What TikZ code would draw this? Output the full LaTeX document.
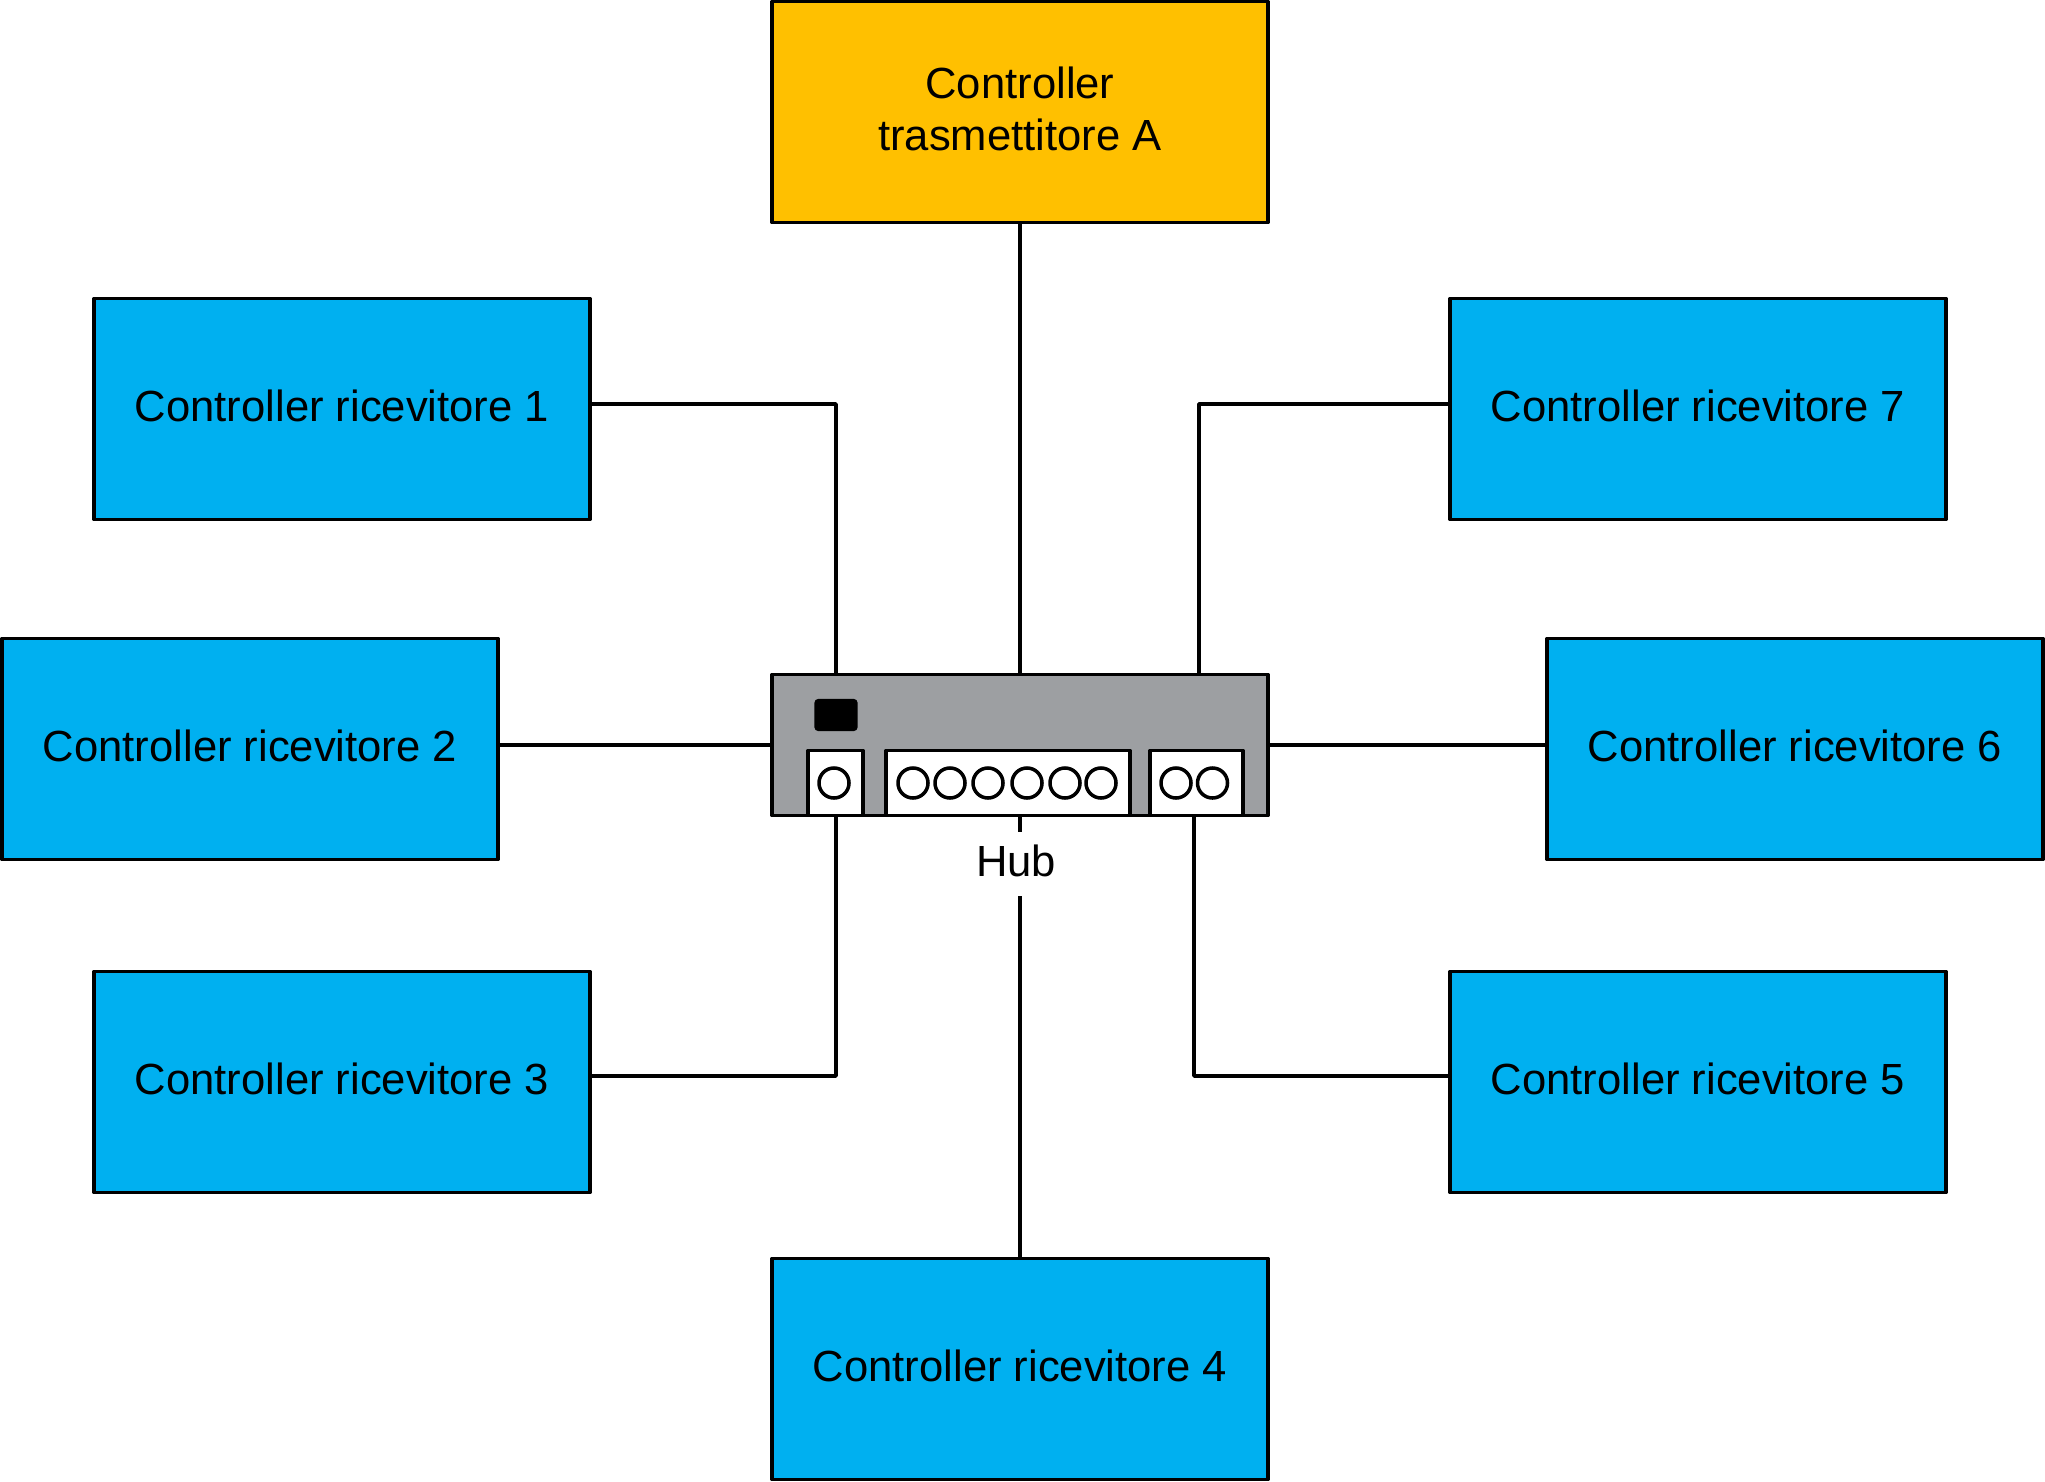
\documentclass[tikz,border=0pt]{standalone}
\usepackage{fontspec}
\setmainfont{Liberation Sans}
\tikzset{
  linea/.style={line width=1pt,line join=round},
  ctrlfont/.style={text depth=0.06cm,font=\fontsize{12.4}{14.8}\selectfont},
  ctrlbox/.style={linea,draw,rectangle,minimum width=4.955cm,minimum height=2.21cm,outer sep=0pt,inner sep=0pt,align=center,ctrlfont},
  ricevitore/.style={ctrlbox,fill=bluctrl},
  porta/.style={linea,draw,fill=white,rectangle,minimum height=0.65cm,outer sep=0pt,inner sep=0pt},
}
\definecolor{bluctrl}{HTML}{00B0F0}
\definecolor{gialloctrl}{HTML}{FFC000}
\definecolor{grigiohub}{HTML}{9D9FA2}
\begin{document}
\begin{tikzpicture}[x=0.01cm,y=-0.01cm]
    \useasboundingbox (0,0) rectangle (2045,1482);
    \node[ctrlbox,fill=gialloctrl] (tx) at (1020,112) {Controller\\trasmettitore A};
    \node[ricevitore] (rx1) at (342,409) {Controller ricevitore 1};
    \node[ricevitore] (rx2) at (250,749) {Controller ricevitore 2};
    \node[ricevitore] (rx3) at (342,1082) {Controller ricevitore 3};
    \node[ricevitore] (rx4) at (1020,1369) {Controller ricevitore 4};
    \node[ricevitore] (rx5) at (1698,1082) {Controller ricevitore 5};
    \node[ricevitore] (rx6) at (1795,749) {Controller ricevitore 6};
    \node[ricevitore] (rx7) at (1698,409) {Controller ricevitore 7};
    % hub
    \node[linea,draw,fill=grigiohub,rectangle,minimum width=4.955cm,minimum height=1.41cm,outer sep=0pt] (hub) at (1020,745) {};
    \node[fill=black,rectangle,rounded corners=1pt,minimum width=0.43cm,minimum height=0.32cm,inner sep=0pt] (led) at (836,715) {};
    \node[porta,minimum width=0.55cm] (p1) at (835.5,783) {};
    \node[porta,minimum width=2.44cm] (p2) at (1008,783) {};
    \node[porta,minimum width=0.93cm] (p3) at (1196.5,783) {};
    \foreach \x in {834,913,950,988,1027,1065,1101,1176,1212.5} {
      \draw[linea] (\x,783) circle[radius=0.15cm];
    }
    % collegamenti
    \coordinate (hubNO) at (836,674);
    \coordinate (hubNE) at (1199,674);
    \coordinate (hubSO) at (836,816);
    \coordinate (hubSE) at (1194,816);
    \draw[linea] (tx.south) -- (hub.north);
    \draw[linea] (rx4.north) -- (hub.south);
    \draw[linea] ([yshift=0.04cm]rx2.east) -- (hub.west);
    \draw[linea] ([yshift=0.04cm]rx6.west) -- (hub.east);
    \draw[linea] ([yshift=0.05cm]rx1.east) -| (hubNO);
    \draw[linea] ([yshift=0.05cm]rx7.west) -| (hubNE);
    \draw[linea] ([yshift=0.06cm]rx3.east) -| (hubSO);
    \draw[linea] ([yshift=0.06cm]rx5.west) -| (hubSE);
    \node[fill=white,inner sep=0pt,minimum width=0.9cm,minimum height=0.63cm,ctrlfont] (hublabel) at (1016,864) {Hub};
\end{tikzpicture}
\end{document}
